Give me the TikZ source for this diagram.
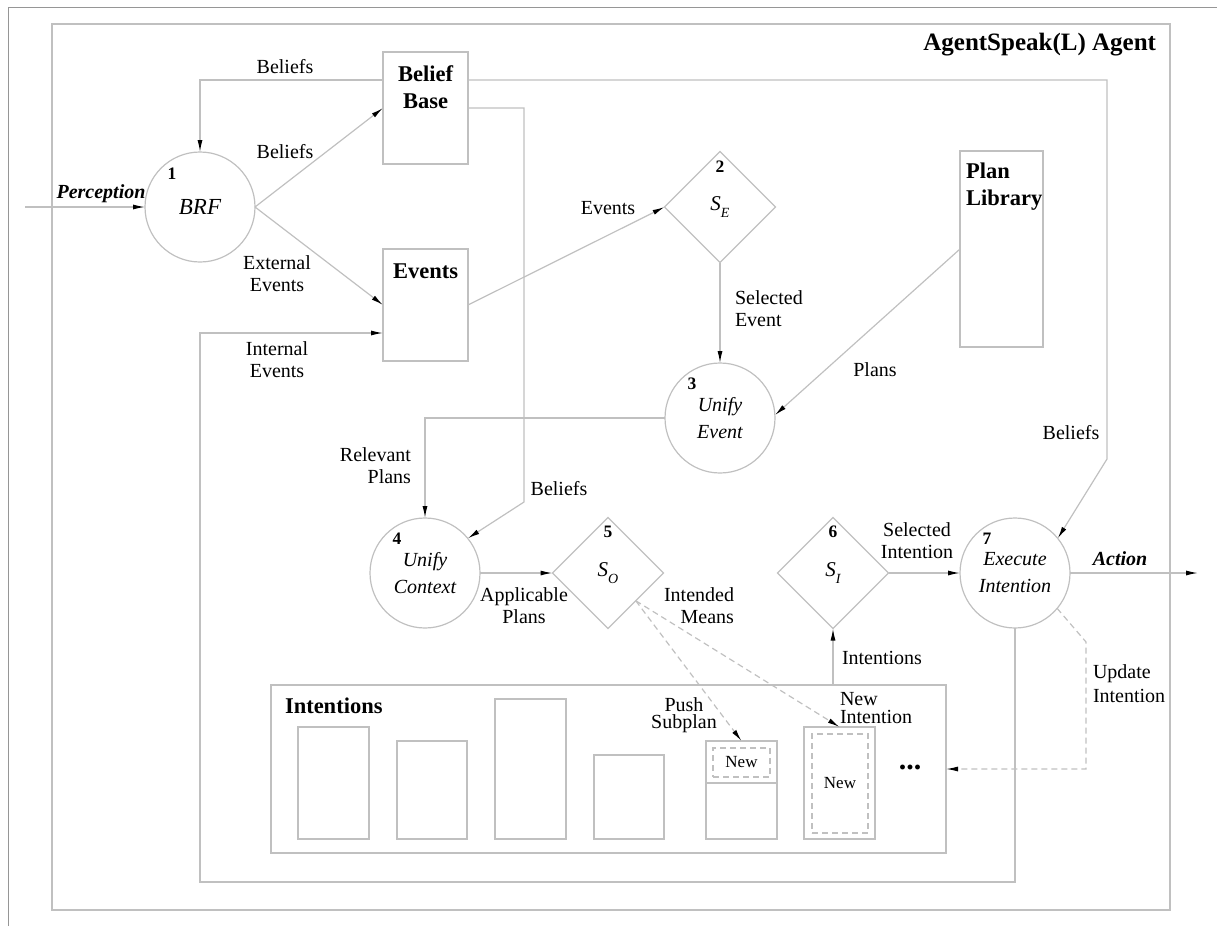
\documentclass[tikz,border=0pt]{standalone}
\usepackage{fontspec}
\setmainfont{Liberation Serif}
\usetikzlibrary{arrows.meta,shapes.geometric,calc}
\definecolor{lnc}{RGB}{192,192,192}
\definecolor{frc}{RGB}{150,150,150}
\begin{document}
\begin{tikzpicture}[x=1pt,y=-1pt,
  every node/.style={inner sep=0pt, outer sep=0pt},
  ln/.style={draw=lnc, line width=1.2pt},
  arr/.style={ln, -{Latex[length=12pt,width=5pt,color=black]}},
  dsh/.style={ln, dash pattern=on 6pt off 4pt},
  darr/.style={dsh, -{Latex[length=12pt,width=5pt,color=black]}},
  lbl/.style={font=\fontsize{20}{22}\selectfont, align=center},
  tight/.style={font=\fontsize{20}{17.5}\selectfont},
  ttl/.style={font=\fontsize{22.5}{27}\selectfont\bfseries, align=center},
  num/.style={font=\fontsize{17.5}{20}\selectfont\bfseries},
  proc/.style={circle, ln, minimum size=110pt, font=\fontsize{20}{27}\selectfont\itshape, align=center},
  sel/.style={diamond, ln, aspect=1, minimum width=111pt, minimum height=111pt, font=\fontsize{21}{22}\selectfont\itshape},
  store/.style={rectangle, ln, minimum width=85pt, minimum height=112pt},
  stk/.style={rectangle, ln, minimum width=71pt},
  newbox/.style={rectangle, dsh, font=\fontsize{17}{20}\selectfont}
]
\useasboundingbox (0,0) rectangle (1217,926);
% outer frame
\draw[draw=frc, line width=1pt] (8,926) -- (8,7) -- (1217,7);
% agent frame
\node[rectangle, ln, minimum width=1118pt, minimum height=886pt] (agent) at (611,467) {};
\node[font=\fontsize{25}{28}\selectfont\bfseries, anchor=east] (agt) at (1156,45) {AgentSpeak(L) Agent};

% main nodes
\node[proc, font=\fontsize{23}{27}\selectfont\itshape] (brf) at (200,207) {BRF};
\node[num] (n1) at (172,174) {1};
\node[store] (bb) at (425.5,108) {};
\node[ttl] (bbt) at (425.5,87) {Belief\\Base};
\node[store] (ev) at (425.5,305) {};
\node[ttl] (evt) at (425.5,271) {Events};
\node[sel] (se) at (720,207) {S\raisebox{-0.3em}{\fontsize{14}{14}\selectfont E}};
\node[num] (n2) at (720,167) {2};
\node[rectangle, ln, minimum width=83pt, minimum height=196pt] (pl) at (1001.5,249) {};
\node[ttl, align=left, anchor=west] (plt) at (966,187) {Plan\\Library};
\node[proc] (ue) at (720,418) {Unify\\Event};
\node[num] (n3) at (692,384) {3};
\node[proc] (uc) at (425,573) {Unify\\Context};
\node[num] (n4) at (397,539) {4};
\node[sel] (so) at (608,573) {S\raisebox{-0.3em}{\fontsize{14}{14}\selectfont O}};
\node[num] (n5) at (608,532) {5};
\node[sel] (si) at (833,573) {S\raisebox{-0.3em}{\fontsize{14}{14}\selectfont I}};
\node[num] (n6) at (833,532) {6};
\node[proc] (ei) at (1015,573) {Execute\\Intention};
\node[num] (n7) at (987,539) {7};

% intentions
\node[rectangle, ln, minimum width=675pt, minimum height=168pt] (ibox) at (608.5,769) {};
\node[ttl, anchor=west] (intt) at (285,706) {Intentions};
\node[stk, minimum height=112pt] (s1) at (333.5,783) {};
\node[stk, minimum width=70pt, minimum height=98pt] (s2) at (432,790) {};
\node[stk, minimum height=140pt] (s3) at (530.5,769) {};
\node[stk, minimum width=70pt, minimum height=84pt] (s4) at (629,797) {};
\node[stk, minimum height=98pt] (s5) at (741.5,790) {};
\draw[ln] (s5.west |- 0,783) -- (s5.east |- 0,783);
\node[newbox, minimum width=57pt, minimum height=29pt] (nw5) at (741.5,762.5) {New};
\node[stk, minimum height=112pt] (s6) at (839.5,783) {};
\node[newbox, minimum width=56pt, minimum height=99pt] (nw6) at (840,783.5) {New};
\node[font=\fontsize{30}{30}\selectfont\bfseries] (dots) at (910,767) {...};

% free ends
\coordinate (pin) at (25,207);
\coordinate (pout) at (1198,573);
\coordinate (lp) at (200,882);
\coordinate (u1) at (1086,642);

% connectors
\draw[arr] (pin) -- (brf.west);
\node[lbl, font=\fontsize{20}{22}\selectfont\bfseries\itshape] (perl) at (101,194) {Perception};
\draw[arr] ($(bb.north west)+(0,28)$) -| (brf.north);
\node[lbl] (bel1) at (285,67) {Beliefs};
\draw[arr] (brf.east) -- (bb.west);
\node[lbl] (bel2) at (285,152) {Beliefs};
\draw[arr] (brf.east) -- (ev.west);
\node[lbl] (extl) at (277,274) {External\\Events};
\draw[arr] (ei.south) |- (lp) -- (lp |- 0,333) -- ($(ev.west)+(0,28)$);
\node[lbl] (intl) at (277,360) {Internal\\Events};
\draw[arr] (bb.east) -- (524,108) -- (524,502) -- (uc.39);
\node[lbl] (bel3) at (559,489) {Beliefs};
\draw[arr] (ev.east) -- (se.west);
\node[lbl] (evl) at (608,208) {Events};
\draw[arr] (se.south) -- (ue.north);
\node[lbl, align=left, anchor=west] (sell) at (735,309) {Selected\\Event};
\draw[arr] (pl.west) -- (ue.3);
\node[lbl] (plansl) at (875,370) {Plans};
\draw[arr] (ue.west) -| (uc.north);
\node[lbl, align=right, anchor=east] (rell) at (411,466) {Relevant\\Plans};
\draw[arr] (uc.east) -- (so.west);
\node[lbl] (appl) at (524,606) {Applicable\\Plans};
\draw[darr] (so.south east) -- (s5.north);
\draw[darr] (so.south east) -- (s6.north);
\node[lbl, align=right, anchor=east] (intml) at (734,606) {Intended\\Means};
\node[lbl, tight] (pushl) at (684,715) {Push\\Subplan};
\node[lbl, tight, align=left, anchor=west] (newil) at (840,708) {New\\Intention};
\draw[arr] (ibox.north -| si.south) -- (si.south);
\node[lbl] (intsl) at (882,658) {Intentions};
\draw[arr] (si.east) -- (ei.west);
\node[lbl] (sell2) at (917,541) {Selected\\Intention};
\draw[arr] ($(bb.north east)+(0,28)$) -- (1107,80) -- (1107,459) -- (ei.39);
\node[lbl] (bel4) at (1071,433) {Beliefs};
\draw[arr] (ei.east) -- (pout);
\node[lbl, font=\fontsize{20}{22}\selectfont\bfseries\itshape] (actl) at (1120,559) {Action};
\draw[darr] (ei.-40) -- (u1) |- (ibox.east);
\node[lbl, font=\fontsize{20}{24}\selectfont, align=left, anchor=west] (updl) at (1093,684) {Update\\Intention};
\end{tikzpicture}
\end{document}
